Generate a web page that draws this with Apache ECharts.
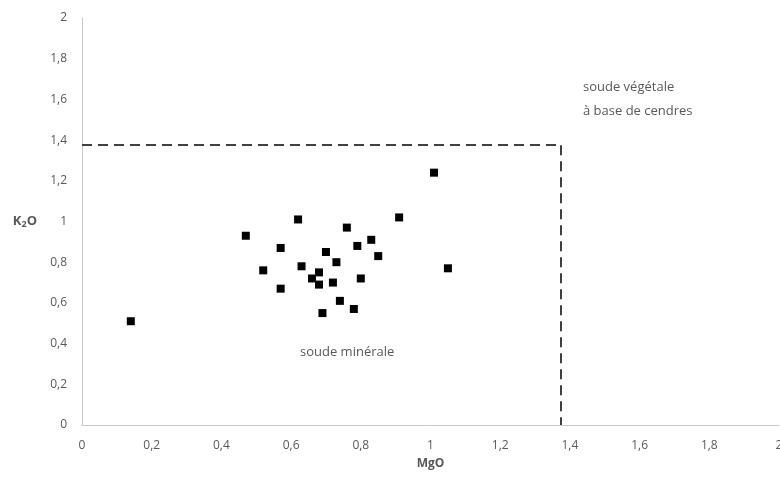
<!DOCTYPE html>
<html>
<head>
<meta charset="utf-8">
<script src="https://cdn.jsdelivr.net/npm/echarts@6/dist/echarts.min.js"></script>
<style>
html, body { margin: 0; padding: 0; background: #fff; }
#chart { width: 780px; height: 482px; }
</style>
</head>
<body>
<div id="chart"></div>
<script>
// MgO / K2O des verres
var mgo = [1.01, 0.62, 0.91, 0.47, 0.76, 0.83, 0.57, 0.79, 0.70, 0.85, 0.73, 0.63,
           0.52, 1.05, 0.68, 0.66, 0.80, 0.68, 0.72, 0.57, 0.74, 0.78, 0.69, 0.14];
var k2o = [1.24, 1.01, 1.02, 0.93, 0.97, 0.91, 0.87, 0.88, 0.85, 0.83, 0.80, 0.78,
           0.76, 0.77, 0.75, 0.72, 0.72, 0.69, 0.70, 0.67, 0.61, 0.57, 0.55, 0.51];
var limite = 1.375;   // seuil soude minérale / soude végétale
var axisMin = 0, axisMax = 2, axisStep = 0.2;

var chart = echarts.init(document.getElementById("chart"));

var points = [];
for (var i = 0; i < mgo.length; i++) {
	points.push([mgo[i], k2o[i]]);
}

function virgule(v) {
	return String(Math.round(v * 10) / 10).replace('.', ',');
}

var police = 'Open Sans';
var gris = '#595959';

var option = {
	animation: false,
	grid: {
		left: 82,
		right: 1,
		top: 18,
		bottom: 57,
		containLabel: false,
		outerBoundsMode: 'none'
	},
	xAxis: {
		type: 'value',
		min: axisMin,
		max: axisMax,
		interval: axisStep,
		name: 'MgO',
		nameLocation: 'middle',
		nameGap: 33,
		nameTextStyle: { fontFamily: police, fontSize: 12, fontWeight: 'bold', color: gris },
		axisLine: { show: true, lineStyle: { color: '#c8c8c8', width: 1 } },
		axisTick: { show: false },
		splitLine: { show: false },
		axisLabel: { formatter: virgule, fontFamily: police, fontSize: 12, color: gris, margin: 15 }
	},
	yAxis: {
		type: 'value',
		min: axisMin,
		max: axisMax,
		interval: axisStep,
		name: 'K{s|2}O',
		nameLocation: 'middle',
		nameRotate: 0,
		nameGap: 45,
		nameTextStyle: {
			fontFamily: police, fontSize: 13, fontWeight: 'bold', color: gris,
			rich: { s: { fontFamily: police, fontSize: 9, fontWeight: 'bold', color: gris, padding: [6, 0, 0, 0] } }
		},
		axisLine: { show: true, lineStyle: { color: '#c8c8c8', width: 1 } },
		axisTick: { show: false },
		splitLine: { show: false },
		axisLabel: { formatter: virgule, fontFamily: police, fontSize: 12, color: gris, margin: 15 }
	},
	series: [{
		type: 'scatter',
		data: points,
		symbol: 'rect',
		symbolSize: 8,
		itemStyle: { color: '#000', opacity: 1 },
		markLine: {
			silent: true,
			symbol: 'none',
			label: { show: false },
			lineStyle: { color: '#404040', type: [10, 6], width: 2, opacity: 1 },
			data: [
				[{ coord: [axisMin, limite] }, { coord: [limite, limite] }],
				[{ coord: [limite, limite] }, { coord: [limite, axisMin] }]
			]
		}
	}],
	graphic: [
		{
			type: 'text',
			left: 583,
			top: 75,
			style: {
				text: 'soude végétale\nà base de cendres',
				font: '13px "Open Sans"',
				fill: gris,
				lineHeight: 24
			}
		},
		{
			type: 'text',
			left: 300,
			top: 346,
			style: {
				text: 'soude minérale',
				font: '13px "Open Sans"',
				fill: gris
			}
		}
	]
};

chart.setOption(option);
</script>
</body>
</html>
